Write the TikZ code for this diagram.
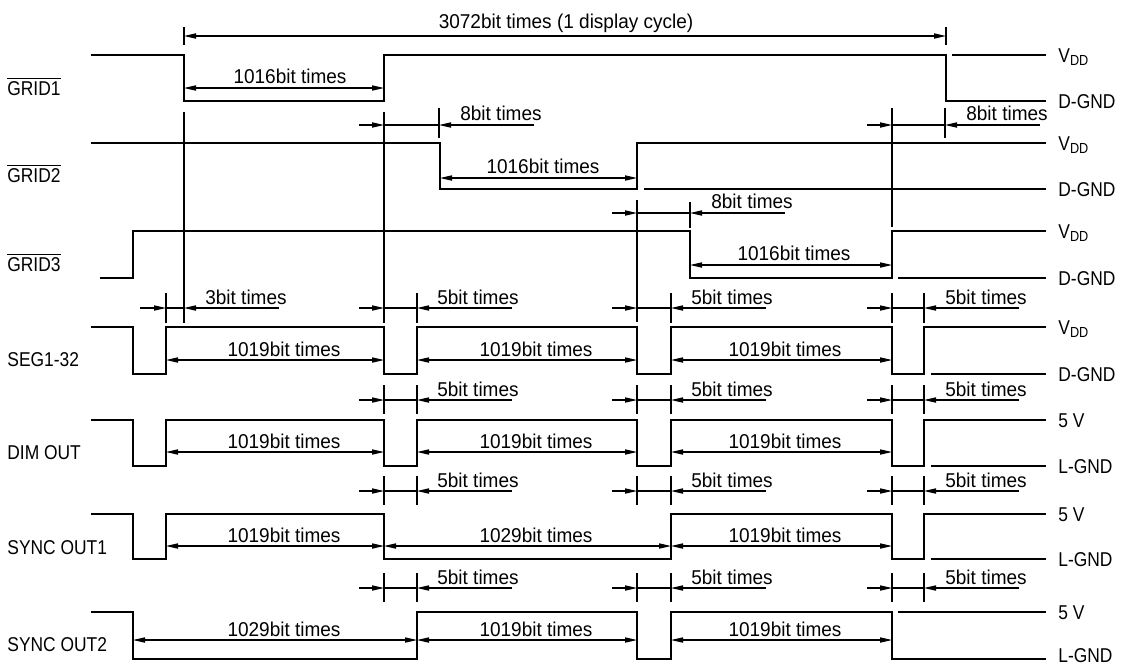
\documentclass[tikz,border=0pt]{standalone}
\usepackage{fontspec}
\setmainfont{Liberation Sans}
\newfontfamily\tdwide[FakeStretch=0.95]{Liberation Sans}
\newfontfamily\tdnarrow[FakeStretch=0.87]{Liberation Sans}
\usetikzlibrary{arrows.meta}
\newcommand\tdfont{\tdwide\fontsize{10}{12}\selectfont}
\newcommand\tdsigfont{\tdnarrow\fontsize{10}{12}\selectfont}
\newcommand\tdsub[1]{\raisebox{-0.35ex}{\fontsize{7.3}{8}\selectfont #1}}
\newcommand\tdbar[1]{$\overline{\mbox{#1}}$}
\newcommand\tdvdd{V\tdsub{DD}}
\tikzset{
  wave/.style={line width=0.75pt, line join=miter},
  dimln/.style={line width=0.55pt},
  dimarr/.style={dimln, -{Triangle[length=6pt,width=2.6pt]}},
  dimboth/.style={dimln, {Triangle[length=6pt,width=2.6pt]}-{Triangle[length=6pt,width=2.6pt]}},
  lbl/.style={font=\tdfont, inner sep=0pt, anchor=base},
  sig/.style={font=\tdsigfont, inner sep=0pt, anchor=base west},
}
% pair marker: x1 x2 y  (arrow in to x1, tick region to x2, arrow back to x2)
\newcommand\tdpair[3]{%
  \draw[dimarr] ({#1-25},#3) -- (#1,#3);
  \draw[dimln] (#1,#3) -- (#2,#3);
  \draw[dimarr] ({#2+95},#3) -- (#2,#3);
}
\newcommand\tdtick[2]{\draw[dimln] (#1,{#2-15}) -- (#1,{#2+14});}
\begin{document}
\begin{tikzpicture}[x=0.5pt,y=-0.5pt]
\useasboundingbox (0,0) rectangle (1127,666);

% ---------------- waveforms ----------------
% GRID1
\draw[wave] (91,55) -| (184,101) -| (384,55) -| (946,101) -- (1046,101);
\draw[wave] (952,55) -- (1046,55);
% GRID2
\draw[wave] (91,143) -| (440,189) -| (637,143) -- (1046,143);
\draw[wave] (644,189) -- (1046,189);
% GRID3
\draw[wave] (100,278) -| (133,231) -| (690,278) -| (892,231) -- (1046,231);
\draw[wave] (898,278) -- (1046,278);
% SEG1-32
\draw[wave] (91,327) -| (133,374) -| (166,327) -| (384,374) -| (417,327) -| (637,374) -| (671,327) -| (892,374) -| (924,327) -- (1046,327);
\draw[wave] (931,374) -- (1046,374);
% DIM OUT
\draw[wave] (91,420) -| (133,466) -| (166,420) -| (384,466) -| (417,420) -| (637,466) -| (671,420) -| (892,466) -| (924,420) -- (1046,420);
\draw[wave] (931,466) -- (1046,466);
% SYNC OUT1
\draw[wave] (91,514) -| (133,559) -| (166,514) -| (384,559) -| (671,514) -| (892,559) -| (924,514) -- (1046,514);
\draw[wave] (931,559) -- (1046,559);
% SYNC OUT2
\draw[wave] (91,612) -| (133,659) -| (417,612) -| (637,659) -| (671,612) -| (892,659) -- (1046,659);
\draw[wave] (898,612) -- (1046,612);

% ---------------- reference verticals ----------------
\draw[dimln] (184,112) -- (184,323);
\draw[dimln] (384,112) -- (384,323);
\draw[dimln] (637,200) -- (637,322);
\draw[dimln] (892,108) -- (892,227);
\draw[dimln] (184,27) -- (184,45);
\draw[dimln] (946,27) -- (946,45);
\draw[dimln] (439,108) -- (439,138);
\draw[dimln] (690,202) -- (690,228);
\draw[dimln] (945,108) -- (945,138);
\draw[dimln] (166,293) -- (166,323);
\draw[dimln] (417,293) -- (417,323);
\draw[dimln] (671,293) -- (671,323);
\draw[dimln] (892,293) -- (892,323);
\draw[dimln] (924,293) -- (924,323);
\foreach \yy in {400,491,588}{
  \foreach \xx in {384,417,637,671,892,924}{\tdtick{\xx}{\yy}}
}

% ---------------- dimension arrows ----------------
\draw[dimboth] (184,36) -- (946,36);
\draw[dimboth] (184,88) -- (384,88);
\draw[dimboth] (440,178) -- (637,178);
\draw[dimboth] (690,265) -- (892,265);
\tdpair{384}{439}{125}
\tdpair{637}{690}{213}
\tdpair{892}{945}{125}
% 3bit
\draw[dimarr] (140,308) -- (166,308);
\draw[dimln] (166,308) -- (184,308);
\draw[dimarr] (279,308) -- (184,308);
\foreach \yy in {308,400,491,588}{
  \tdpair{384}{417}{\yy}
  \tdpair{637}{671}{\yy}
  \tdpair{892}{924}{\yy}
}
% SEG / DIM
\foreach \yy in {360,452}{
  \draw[dimboth] (166,\yy) -- (384,\yy);
  \draw[dimboth] (417,\yy) -- (637,\yy);
  \draw[dimboth] (671,\yy) -- (892,\yy);
}
% SYNC1
\draw[dimboth] (166,546) -- (384,546);
\draw[dimboth] (384,546) -- (671,546);
\draw[dimboth] (671,546) -- (892,546);
% SYNC2
\draw[dimboth] (133,640) -- (417,640);
\draw[dimboth] (417,640) -- (637,640);
\draw[dimboth] (671,640) -- (892,640);

% ---------------- labels ----------------
\node[lbl] (tcyc) at (566,28) {3072bit times (1 display cycle)};
\node[lbl] (g1w) at (290,83) {1016bit times};
\node[lbl] (g1a) at (501,120) {8bit times};
\node[lbl] (g1b) at (1007,120) {8bit times};
\node[lbl] (g2w) at (543,173) {1016bit times};
\node[lbl] (g2a) at (752,208) {8bit times};
\node[lbl] (g3w) at (794,260) {1016bit times};
\node[lbl] (b3) at (246,304) {3bit times};
\foreach \yy/\nm in {304/s,396/d,487/a,584/b}{
  \node[lbl] (\nm f1) at (478,\yy) {5bit times};
  \node[lbl] (\nm f2) at (732,\yy) {5bit times};
  \node[lbl] (\nm f3) at (986,\yy) {5bit times};
}
\foreach \yy/\nm in {356/s,448/d}{
  \node[lbl] (\nm w1) at (284,\yy) {1019bit times};
  \node[lbl] (\nm w2) at (536,\yy) {1019bit times};
  \node[lbl] (\nm w3) at (785,\yy) {1019bit times};
}
\node[lbl] (aw1) at (284,542) {1019bit times};
\node[lbl] (aw2) at (536,542) {1029bit times};
\node[lbl] (aw3) at (785,542) {1019bit times};
\node[lbl] (bw1) at (284,636) {1029bit times};
\node[lbl] (bw2) at (536,636) {1019bit times};
\node[lbl] (bw3) at (785,636) {1019bit times};

% signal names
\node[sig] (n1) at (7,95) {\tdbar{GRID1}};
\node[sig] (n2) at (7,182) {\tdbar{GRID2}};
\node[sig] (n3) at (7,271) {\tdbar{GRID3}};
\node[sig] (n4) at (7,366) {SEG1-32};
\node[sig] (n5) at (7,459) {DIM OUT};
\node[sig] (n6) at (7,554) {SYNC OUT1};
\node[sig] (n7) at (7,651) {SYNC OUT2};

% level names
\node[sig] (v1) at (1058,62) {\tdvdd};
\node[sig] (v2) at (1058,108) {D-GND};
\node[sig] (v3) at (1058,150) {\tdvdd};
\node[sig] (v4) at (1058,196) {D-GND};
\node[sig] (v5) at (1058,238) {\tdvdd};
\node[sig] (v6) at (1058,285) {D-GND};
\node[sig] (v7) at (1058,334) {\tdvdd};
\node[sig] (v8) at (1058,381) {D-GND};
\node[sig] (v9) at (1058,427) {5 V};
\node[sig] (v10) at (1058,473) {L-GND};
\node[sig] (v11) at (1058,521) {5 V};
\node[sig] (v12) at (1058,566) {L-GND};
\node[sig] (v13) at (1058,619) {5 V};
\node[sig] (v14) at (1058,662) {L-GND};
\end{tikzpicture}
\end{document}
